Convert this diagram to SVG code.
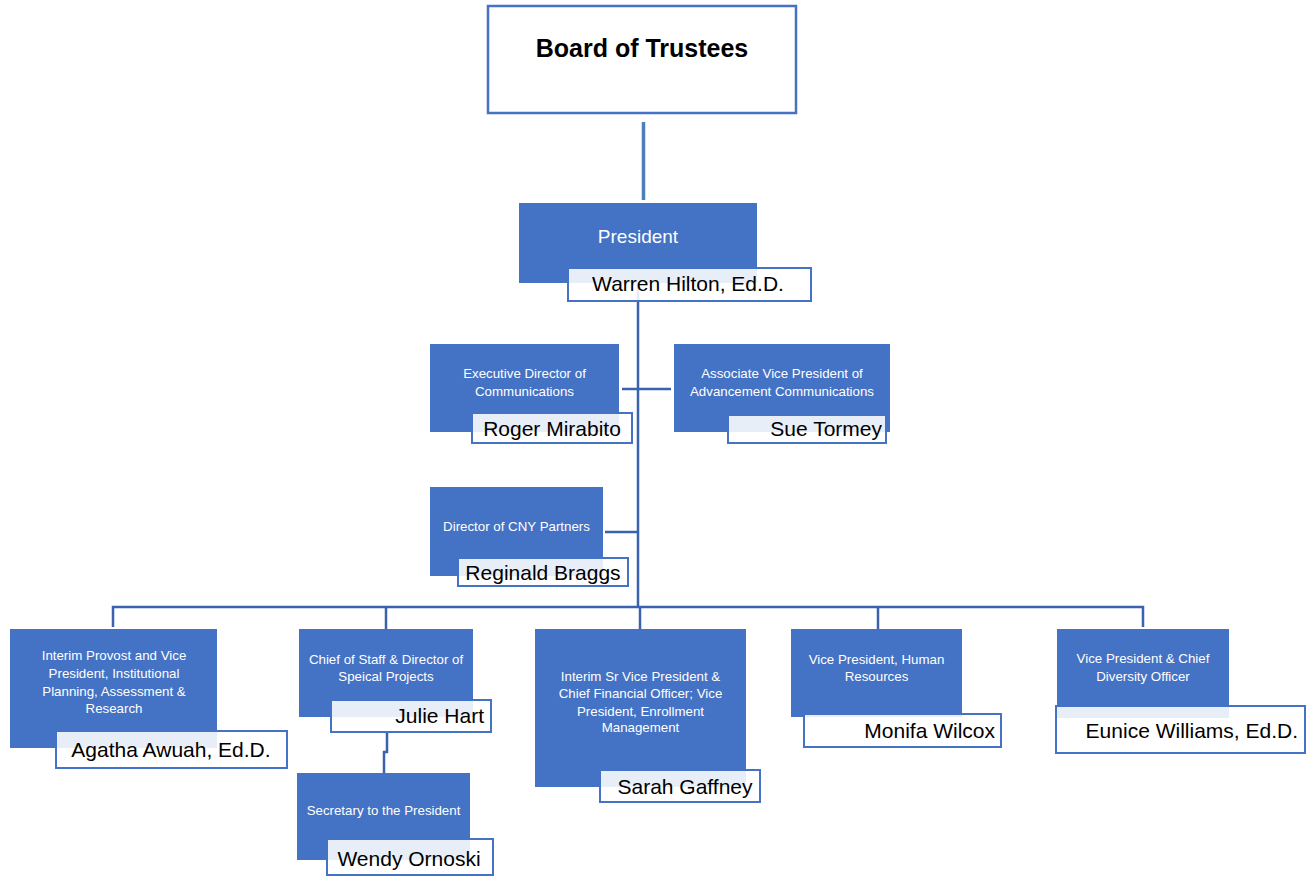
<svg xmlns="http://www.w3.org/2000/svg" width="1314" height="876" viewBox="0 0 1314 876">
<style>
.box{fill:#4472C4;}
.name{fill:#FFFFFF;fill-opacity:0.88;stroke:#4472C4;stroke-width:2;}
.t{font-family:"Liberation Sans",Arial,sans-serif;font-size:13.3px;fill:#FFFFFF;text-anchor:middle;}
.n{font-family:"Liberation Sans",Arial,sans-serif;font-size:21px;fill:#000000;}
.c{fill:none;stroke:#3A62AE;stroke-width:2.5;}
</style>
<rect width="1314" height="876" fill="#FFFFFF"/>
<g id="connectors">
<line x1="643.5" y1="122" x2="643.5" y2="200" stroke="#4F7FB8" stroke-width="3.5"/>
<path class="c" d="M638,283 V607"/>
<path class="c" d="M622,389 H671"/>
<path class="c" d="M605,532 H638"/>
<path class="c" d="M113,627 V607 H1143 V627"/>
<path class="c" d="M386,607 V629"/>
<path class="c" d="M640,607 V629"/>
<path class="c" d="M878,607 V629"/>
<path class="c" d="M387,732 V752 H384 V773"/>
</g>
<g id="board">
<rect x="488" y="6" width="308" height="107" fill="#FFFFFF" stroke="#4472C4" stroke-width="2.5"/>
<text x="642" y="57" font-family="'Liberation Sans',Arial,sans-serif" font-size="25" font-weight="bold" text-anchor="middle" fill="#000">Board of Trustees</text>
</g>
<g id="president">
<rect class="box" x="519" y="203" width="238" height="80"/>
<text class="t" x="638" y="243" style="font-size:19px">President</text>
<rect class="name" x="568" y="268" width="243" height="33"/>
<text class="n" x="688" y="291" text-anchor="middle">Warren Hilton, Ed.D.</text>
</g>
<g id="exec-comm">
<rect class="box" x="430" y="344" width="189" height="88"/>
<text class="t" x="524.5" y="378">Executive Director of</text>
<text class="t" x="524.5" y="396">Communications</text>
<rect class="name" x="472" y="413" width="160" height="30"/>
<text class="n" x="552" y="436" text-anchor="middle">Roger Mirabito</text>
</g>
<g id="avp-adv">
<rect class="box" x="674" y="344" width="216" height="88"/>
<text class="t" x="782" y="378">Associate Vice President of</text>
<text class="t" x="782" y="396">Advancement Communications</text>
<rect class="name" x="728" y="415" width="158" height="28"/>
<text class="n" x="882" y="436" text-anchor="end">Sue Tormey</text>
</g>
<g id="cny">
<rect class="box" x="430" y="487" width="173" height="89"/>
<text class="t" x="516.5" y="531">Director of CNY Partners</text>
<rect class="name" x="458" y="558" width="170" height="28"/>
<text class="n" x="543" y="580" text-anchor="middle">Reginald Braggs</text>
</g>
<g id="provost">
<rect class="box" x="10" y="629" width="207" height="119"/>
<text class="t" x="114" y="660">Interim Provost and Vice</text>
<text class="t" x="114" y="678">President, Institutional</text>
<text class="t" x="114" y="696">Planning, Assessment &amp;</text>
<text class="t" x="114" y="713">Research</text>
<rect class="name" x="56" y="731" width="231" height="37"/>
<text class="n" x="171" y="757" text-anchor="middle">Agatha Awuah, Ed.D.</text>
</g>
<g id="chief-staff">
<rect class="box" x="299" y="629" width="174" height="88"/>
<text class="t" x="386" y="664">Chief of Staff &amp; Director of</text>
<text class="t" x="386" y="681">Speical Projects</text>
<rect class="name" x="331" y="700" width="160" height="32"/>
<text class="n" x="484" y="723" text-anchor="end">Julie Hart</text>
</g>
<g id="secretary">
<rect class="box" x="297" y="773" width="173" height="87"/>
<text class="t" x="383.5" y="815">Secretary to the President</text>
<rect class="name" x="327" y="839" width="166" height="36"/>
<text class="n" x="409" y="866" text-anchor="middle">Wendy Ornoski</text>
</g>
<g id="cfo">
<rect class="box" x="535" y="629" width="211" height="158"/>
<text class="t" x="640.5" y="681">Interim Sr Vice President &amp;</text>
<text class="t" x="640.5" y="698">Chief Financial Officer; Vice</text>
<text class="t" x="640.5" y="716">President, Enrollment</text>
<text class="t" x="640.5" y="732">Management</text>
<rect class="name" x="600" y="770" width="160" height="32"/>
<text class="n" x="685" y="794" text-anchor="middle">Sarah Gaffney</text>
</g>
<g id="hr">
<rect class="box" x="791" y="629" width="171" height="88"/>
<text class="t" x="876.5" y="664">Vice President, Human</text>
<text class="t" x="876.5" y="681">Resources</text>
<rect class="name" x="804" y="714" width="197" height="33"/>
<text class="n" x="995" y="738" text-anchor="end">Monifa Wilcox</text>
</g>
<g id="diversity">
<rect class="box" x="1057" y="629" width="172" height="89"/>
<text class="t" x="1143" y="663">Vice President &amp; Chief</text>
<text class="t" x="1143" y="681">Diversity Officer</text>
<rect class="name" x="1056" y="706" width="249" height="47"/>
<text class="n" x="1298" y="738" text-anchor="end">Eunice Williams, Ed.D.</text>
</g>
</svg>
